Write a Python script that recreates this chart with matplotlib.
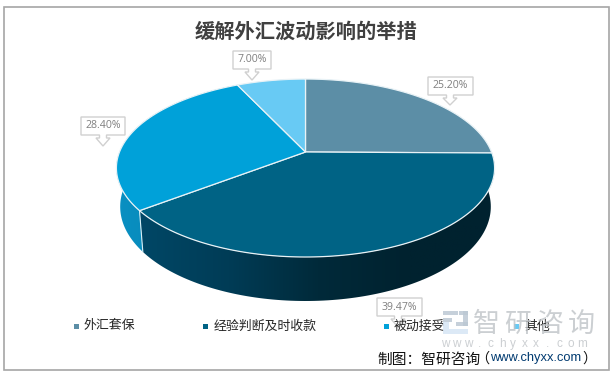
import numpy as np
import matplotlib
matplotlib.use("Agg")
import matplotlib.pyplot as plt
from matplotlib.colors import LinearSegmentedColormap
from matplotlib.patches import Polygon, Rectangle

plt.rcParams['font.family'] = ['Noto Sans CJK SC', 'DejaVu Sans']

title = "缓解外汇波动影响的举措"
categories = ["外汇套保", "经验判断及时收款", "被动接受", "其他"]
values = [25.20, 39.47, 28.40, 7.00]
colors = ["#5C8EA6", "#006385", "#00A1D9", "#68CAF4"]
footer_cn = "制图：智研咨询"
footer_url = "www.chyxx.com"

# layout in pixels of the 615x373 picture
label_box = [(428, 77, 473, 95, 450, 105), (377, 298, 422, 316, 398, 327),
             (81, 117, 125, 135, 103, 146), (233, 51, 271, 69, 252, 80)]
legend_x = [76, 205.5, 386, 516.5]
legend_y = 326

fig = plt.figure(figsize=(6.15, 3.73), dpi=100)
ax = fig.add_axes([0, 0, 1, 1])
ax.set_xlim(0, 615)
ax.set_ylim(373, 0)
ax.axis("off")

# frame
ax.add_patch(Rectangle((3.5, 6.5), 605, 363, fill=False, ec="#A6A6A6", lw=1.2))

# perspective view of the pie disc
cx, cy = 305.5, 152
R, S, k = 186, 86.1, 0.18


def top_rim(theta):
    t = np.radians(theta)
    w = 1 + k * np.cos(t)
    return cx + R * np.sin(t) / w, cy - S * np.cos(t) / w


def bottom_rim(theta):
    x, y = top_rim(theta)
    return cx + (x - cx) * 0.98, 301 + (y - 257) * 1.06


def arc(func, a, b):
    x, y = func(np.linspace(a, b, 120))
    return np.column_stack([x, y])


edges = np.concatenate([[0], np.cumsum(values)]) / sum(values) * 360

# side walls, only the two front slices can be seen
side_cmaps = {
    1: LinearSegmentedColormap.from_list("s1", ["#004766", "#003C56", "#002A3A", "#00222F", "#00222F"]),
    2: LinearSegmentedColormap.from_list("s2", ["#0A90C2", "#007FAD"]),
}
for i in (1, 2):
    a, b = edges[i], edges[i + 1]
    pts = np.vstack([arc(top_rim, a, b), arc(bottom_rim, b, a)])
    poly = Polygon(pts, closed=True, fc="none", ec="none")
    ax.add_patch(poly)
    x0, x1 = pts[:, 0].min(), pts[:, 0].max()
    y0, y1 = pts[:, 1].min(), pts[:, 1].max()
    grad = np.linspace(0, 1, 256).reshape(1, -1)
    im = ax.imshow(grad, cmap=side_cmaps[i], extent=[x0, x1, y1, y0], aspect="auto", zorder=2)
    im.set_clip_path(poly)

# white seam between the two walls
xa, ya = top_rim(edges[2])
xb, yb = bottom_rim(edges[2])
ax.plot([xa, xb], [ya, yb], color="#D8EEF5", lw=0.8, zorder=3)
ax.set_xlim(0, 615)
ax.set_ylim(373, 0)

# top face
for i in range(len(values)):
    pts = np.vstack([[cx, cy], arc(top_rim, edges[i], edges[i + 1])])
    ax.add_patch(Polygon(pts, closed=True, fc=colors[i], ec="#E8F2F6", lw=0.9, zorder=4))

# data labels with small arrow callouts
for v, (x0, y0, x1, y1, tx, ty) in zip(values, label_box):
    shape = [(x0, y0), (x1, y0), (x1, y1), (tx + 3.5, y1), (tx + 3.5, y1 + 3), (tx + 7, y1 + 3), (tx, ty),
             (tx - 7, y1 + 3), (tx - 3.5, y1 + 3), (tx - 3.5, y1), (x0, y1)]
    ax.add_patch(Polygon(shape, closed=True, fc="white", ec="#D0D0D0", lw=1.0, zorder=5))
    ax.text((x0 + x1) / 2, (y0 + y1) / 2, f"{v:.2f}%", ha="center", va="center", fontsize=7.6,
            color="#7F7F7F", family="Open Sans", zorder=6)

# legend
for name, col, x in zip(categories, colors, legend_x):
    ax.add_patch(Rectangle((x - 2.5, legend_y - 2.5), 5, 5, fc=col, ec="none", zorder=5))
    ax.text(x + 8, legend_y, name, ha="left", va="center", fontsize=9.3, color="#262626", zorder=6)

# title
ax.text(306.5, 31, title, ha="center", va="center", fontsize=14.6, fontweight="bold", color="#404040", zorder=6)

# watermark
wm = "#BFC3C7"
for (x, y, w, h, c) in [(443, 311, 15, 4, "#BCC8D4"), (443, 318, 9, 4, "#BCC8D4"), (443, 322, 6, 12, "#D6E6F5"),
                        (449, 329, 19, 5, "#D6E6F5"), (459, 311, 9, 4, "#BCC8D4"), (463, 311, 5, 15, "#BCC8D4"),
                        (456, 322, 12, 4, "#BCC8D4")]:
    ax.add_patch(Rectangle((x, y), w, h, fc=c, ec="none", alpha=0.85, zorder=7))
for ch, x in zip("智研咨询", [486.5, 518, 550, 581]):
    ax.text(x, 324.5, ch, ha="center", va="center", fontsize=19.5, color=wm, alpha=0.8, zorder=7)
for i, ch in enumerate("www.chyxx.com"):
    ax.text(445 + i * 11.4, 344, ch, ha="center", va="center", fontsize=8.5, color=wm, alpha=0.8,
            family="Liberation Sans", zorder=7)

# source line
ax.text(377, 359.5, footer_cn, ha="left", va="center", fontsize=10.6, color="#111111", zorder=8)
ax.text(489, 359, "（", ha="right", va="center", fontsize=10.2, color="#111111", zorder=8)
ax.text(490, 358, footer_url, ha="left", va="center", fontsize=9.3, color="#003A70",
        family="Liberation Sans", zorder=8)
ax.text(582, 359, "）", ha="left", va="center", fontsize=10.2, color="#111111", zorder=8)

fig.savefig("out.png", dpi=100)
